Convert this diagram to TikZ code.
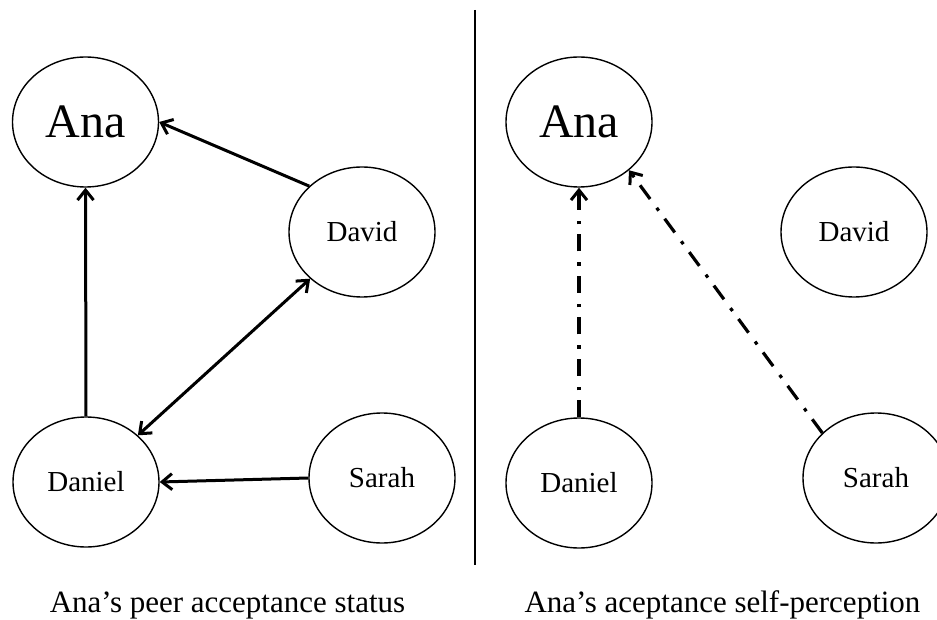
\documentclass[tikz,border=0pt]{standalone}
\usepackage{fontspec}
\setmainfont{Liberation Serif}
\usetikzlibrary{shapes.geometric,arrows.meta}
\begin{document}
\begin{tikzpicture}[x=1pt,y=-1pt,
  person/.style={ellipse,draw,line width=1.4pt,inner sep=0pt,minimum width=146pt,minimum height=130pt,text depth=0pt},
  bigname/.style={font=\fontsize{48}{52}\selectfont,text height=31pt},
  smallname/.style={font=\fontsize{29}{32}\selectfont,text height=19pt},
  caption/.style={anchor=base,font=\fontsize{31}{34}\selectfont},
  tip/.style={-{Straight Barb[length=10pt,width=16pt,line width=3pt]}},
  bothtips/.style={{Straight Barb[length=10pt,width=16pt,line width=3pt]}-{Straight Barb[length=10pt,width=16pt,line width=3pt]}},
  link/.style={line width=3pt},
  selflink/.style={line width=3.2pt,dash pattern=on 17pt off 10pt on 3.5pt off 11pt}]
\useasboundingbox (0,0) rectangle (937,620);
% left panel
\node[person,bigname] (ana) at (85.5,122) {Ana};
\node[person,smallname] (david) at (362,232) {David};
\node[person,smallname] (daniel) at (86,482) {Daniel};
\node[person,smallname] (sarah) at (382,478) {Sarah};
\draw[link,tip] (david.139) -- (ana.east);
\draw[link,tip] (daniel.north) -- (ana.south);
\draw[link,bothtips] (daniel.42) -- (david.222);
\draw[link,tip] (sarah.west) -- (daniel.east);
\node[caption] (capl) at (227.5,612) {Ana’s peer acceptance status};
% divider
\coordinate (dtop) at (475,10);
\coordinate (dbot) at (475,565);
\draw[line width=2pt] (dtop) -- (dbot);
% right panel
\node[person,bigname] (ana2) at (579,122) {Ana};
\node[person,smallname] (david2) at (854,232) {David};
\node[person,smallname] (daniel2) at (579,483) {Daniel};
\node[person,smallname] (sarah2) at (876,478) {Sarah};
\draw[selflink,tip] (daniel2.north) -- (ana2.south);
\draw[selflink,tip] (sarah2.140) -- (ana2.-44);
\node[caption] (capr) at (722.5,612) {Ana’s aceptance self-perception};
\end{tikzpicture}
\end{document}
